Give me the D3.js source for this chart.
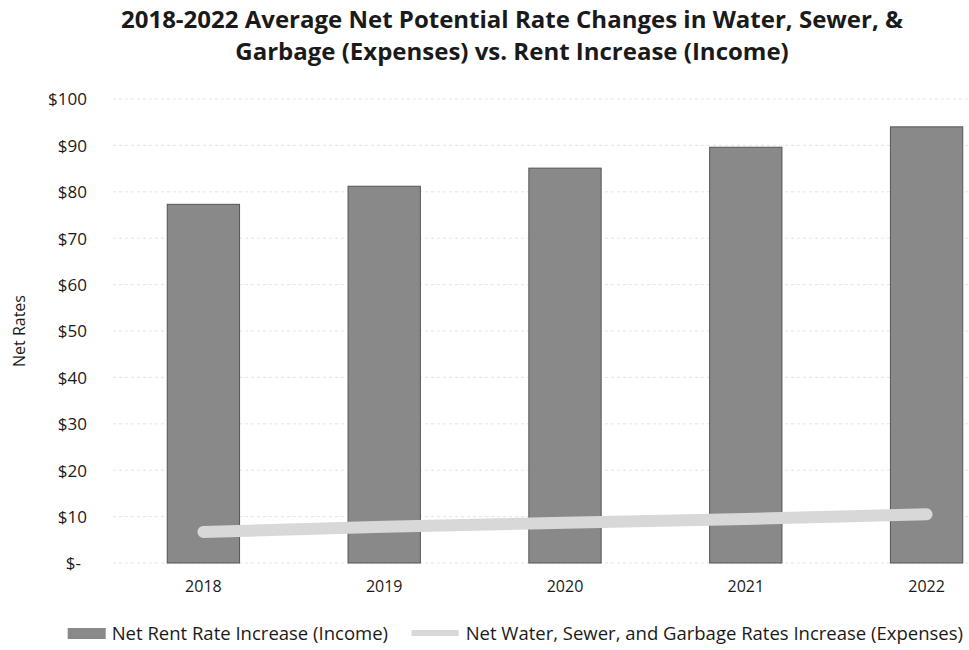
<!DOCTYPE html>
<html><head><meta charset="utf-8">
<script src="https://cdn.jsdelivr.net/npm/d3@7"></script>
<style>
body{margin:0;background:#fff;}
svg text{font-family:"Open Sans",Lato,sans-serif;fill:#1a1a1a;}
</style></head>
<body><svg id="c" width="969" height="650"></svg>
<script>
const years = ["2018","2019","2020","2021","2022"];
const rentIncrease = [77.3, 81.2, 85.1, 89.6, 94.0];
const utilityIncrease = [6.7, 7.8, 8.7, 9.5, 10.5];
const yTicks = [0,10,20,30,40,50,60,70,80,90,100];
const titleLines = ["2018-2022 Average Net Potential Rate Changes in Water, Sewer, &","Garbage (Expenses) vs. Rent Increase (Income)"];
const yLabel = "Net Rates";
const seriesNames = ["Net Rent Rate Increase (Income)","Net Water, Sewer, and Garbage Rates Increase (Expenses)"];

const svg = d3.select("#c");
const x = d3.scaleBand().domain(years).range([113, 1017]).paddingInner(0.6).paddingOuter(0.3);
const y = d3.scaleLinear().domain([0,100]).range([563, 99]);

// title
svg.append("g").selectAll("text").data(titleLines).join("text")
  .attr("x", 512).attr("y",(d,i)=>28+i*32).attr("text-anchor","middle")
  .style("font-size","24px").style("font-weight","bold").text(d=>d);

// gridlines
svg.append("g").selectAll("line").data(yTicks).join("line")
  .attr("x1",113).attr("x2",969).attr("y1",d=>y(d)).attr("y2",d=>y(d))
  .attr("stroke","#e4e4e4").attr("stroke-width",1).attr("stroke-dasharray","3,3");

// y axis
const yAxis = d3.axisLeft(y).tickValues(yTicks).tickSize(0).tickPadding(0)
  .tickFormat(d=> d===0 ? "$-" : "$"+d);
const gy = svg.append("g").attr("transform","translate(87,0)").call(yAxis);
gy.select(".domain").remove();
gy.selectAll("text").style("font-size","17px").attr("dy","0.35em");
gy.selectAll("text").filter(d=>d===0).attr("dx","-6");

svg.append("text").attr("transform","translate(25,331) rotate(-90)")
  .attr("text-anchor","middle").style("font-size","16px").text(yLabel);

// bars
svg.append("g").selectAll("rect").data(years).join("rect")
  .attr("x",d=>x(d)).attr("width",x.bandwidth())
  .attr("y",(d,i)=>y(rentIncrease[i])).attr("height",(d,i)=>y(0)-y(rentIncrease[i]))
  .attr("fill","#898989").attr("stroke","#555").attr("stroke-width",1);

// x axis
const xAxis = d3.axisBottom(x).tickSize(0).tickPadding(0);
const gx = svg.append("g").attr("transform","translate(0,580)").call(xAxis);
gx.select(".domain").remove();
gx.selectAll("text").style("font-size","16px").attr("dy","0.75em");

// line
const line = d3.line().x((d,i)=>x(years[i])+x.bandwidth()/2).y(d=>y(d));
svg.append("path").datum(utilityIncrease).attr("d",line)
  .attr("fill","none").attr("stroke","#d8d8d8").attr("stroke-width",12)
  .attr("stroke-linecap","round").attr("stroke-linejoin","round");

// legend
const lg = svg.append("g");
const t1 = lg.append("text").attr("x",388).attr("y",640).attr("text-anchor","end")
  .style("font-size","18.5px").text(seriesNames[0]);
const t2 = lg.append("text").attr("x",963).attr("y",640).attr("text-anchor","end")
  .style("font-size","18.5px").text(seriesNames[1]);
const w1 = t1.node().getComputedTextLength();
const w2 = t2.node().getComputedTextLength();
lg.append("rect").attr("x",388-w1-44).attr("y",628).attr("width",38).attr("height",11).attr("fill","#898989");
lg.append("line").attr("x1",963-w2-54).attr("x2",963-w2-7).attr("y1",633).attr("y2",633)
  .attr("stroke","#d8d8d8").attr("stroke-width",6);
</script></body></html>
